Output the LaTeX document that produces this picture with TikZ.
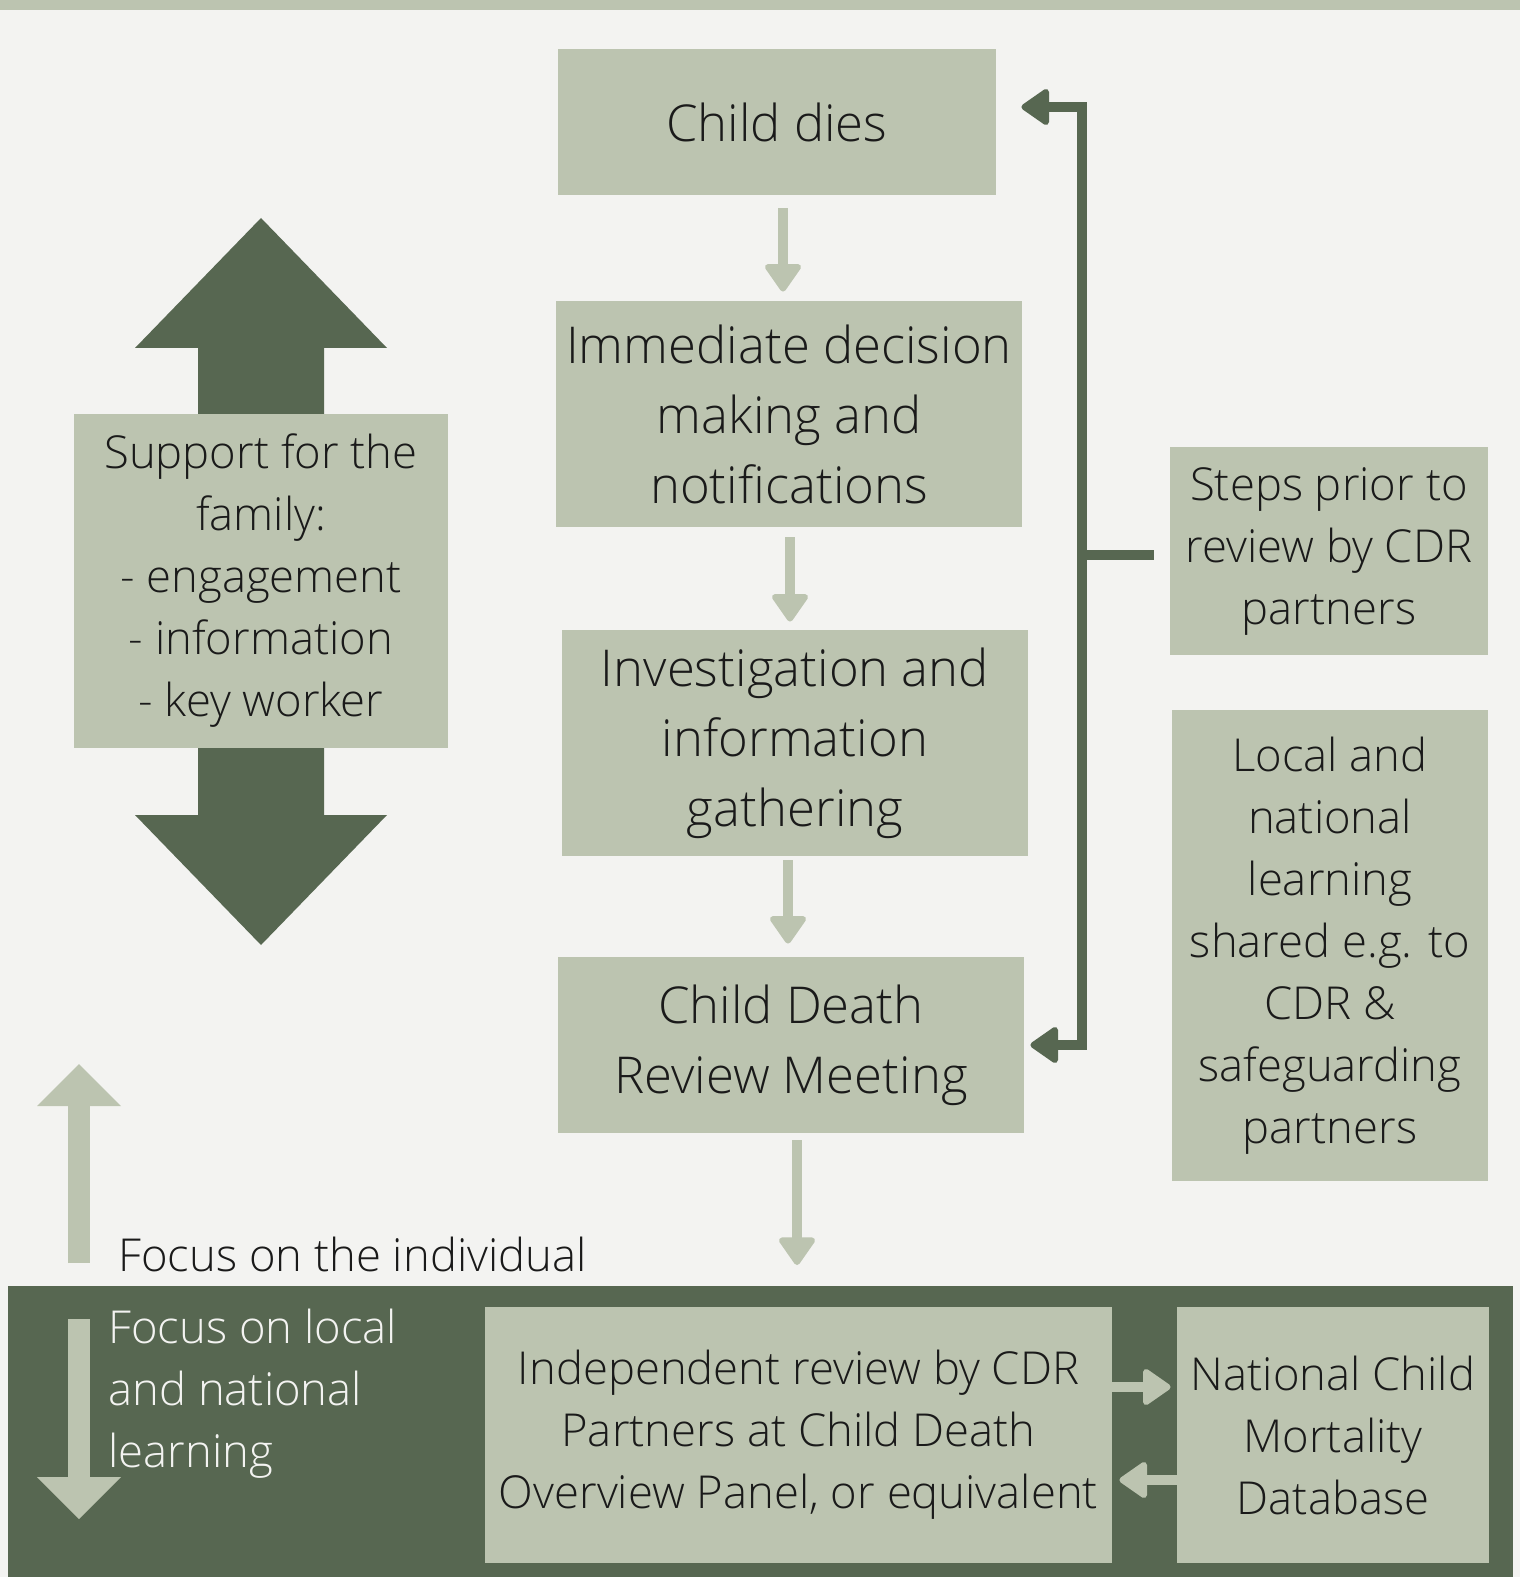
\documentclass[tikz,border=0pt]{standalone}
\usepackage{fontspec}
\setmainfont{Open Sans Light}
\usetikzlibrary{arrows.meta,positioning}
\definecolor{sage}{HTML}{BCC4B0}
\definecolor{moss}{HTML}{576751}
\definecolor{paper}{HTML}{F3F3F1}
\definecolor{ink}{HTML}{1A1A1A}
\tikzset{
  box/.style={fill=sage, text=ink, align=center, inner sep=0pt, font=\fontsize{25.4}{35}\selectfont},
  sidebox/.style={box, font=\fontsize{22.7}{31}\selectfont},
  flow/.style={draw=sage, line width=5pt, -{Triangle[round, width=20pt, length=15pt, line width=3pt]}},
  back/.style={draw=moss, line width=5pt},
  backarrow/.style={back, -{Triangle[round, width=20pt, length=15pt, line width=3pt]}},
  focus/.style={draw=sage, line width=11pt, -{Triangle[width=42pt, length=21pt, line width=0pt]}}
}

\begin{document}
\begin{tikzpicture}[x=0.5pt, y=-0.5pt]
  \useasboundingbox (0,0) rectangle (1520,1577);
  % page, top strip and the dark band
  \fill[paper] (0,0) rectangle (1520,1577);
  \fill[sage] (0,0) rectangle (1520,10);
  \fill[moss] (8,1286) rectangle (1513,1577);

  % family support double arrow
  \fill[moss] (261,218) -- (387,348) -- (324,348) -- (324,815) -- (387,815) -- (261,945)
    -- (135,815) -- (198,815) -- (198,348) -- (135,348) -- cycle;

  \node (dies) [box, minimum width=219pt, minimum height=73pt] at (777,122) {Child dies};
  \node (decide) [box, minimum width=233pt, minimum height=113pt] at (789,414) {Immediate decision\\making and\\notifications};
  \node (invest) [box, minimum width=233pt, minimum height=113pt] at (795,743) {Investigation and\\information\\gathering};
  \node (meet) [box, minimum width=233pt, minimum height=88pt] at (791,1045) {Child Death\\Review Meeting};
  \node (support) [sidebox, minimum width=187pt, minimum height=167pt] at (261,581) {Support for the\\family:\\- engagement\\- information\\- key worker};
  \node (steps) [sidebox, minimum width=159pt, minimum height=104pt] at (1329,551) {Steps prior to\\review by CDR\\partners};
  \node (learn) [sidebox, minimum width=158pt, minimum height=235.5pt] at (1330,945.5) {Local and\\national\\learning\\shared e.g. to\\CDR \&\\safeguarding\\partners};
  \node (indep) [sidebox, minimum width=313.5pt, minimum height=128pt] at (798.5,1435) {Independent review by CDR\\Partners at Child Death\\Overview Panel, or equivalent};
  \node (ncmd) [sidebox, minimum width=156pt, minimum height=128pt] at (1333,1435) {National Child\\Mortality\\Database};

  \node (indiv) [sidebox, fill=none, anchor=base west] at (118,1271) {Focus on the individual};
  \node (wider) [sidebox, fill=none, text=paper, align=left, anchor=base west] at (108,1467) {Focus on local\\and national\\learning};

  \coordinate (gate) at (797,1265);
  \coordinate (fork) at (1082,555);

  % main flow
  \draw[flow] ([xshift=3pt, yshift=-6.5pt]dies.south) -- ([xshift=3pt, yshift=4.5pt]dies.south |- decide.north);
  \draw[flow] ([xshift=0.5pt, yshift=-5pt]decide.south) -- ([xshift=0.5pt, yshift=4pt]decide.south |- invest.north);
  \draw[flow] ([xshift=-3.5pt, yshift=-2pt]invest.south) -- ([xshift=-3.5pt, yshift=6.5pt]invest.south |- meet.north);
  \draw[flow] ([xshift=3pt, yshift=-3.5pt]meet.south) -- (gate);

  % feedback bracket
  \draw[back] ([xshift=-8pt, yshift=-2pt]steps.west) -- (fork);
  \draw[backarrow] (fork) |- ([xshift=12.5pt, yshift=7.5pt]dies.east);
  \draw[backarrow] (fork) |- ([xshift=3pt]meet.east);

  % national database exchange
  \draw[flow] ([yshift=24pt]indep.east) -- ([xshift=-3pt, yshift=24pt]ncmd.west);
  \draw[flow] ([yshift=-22.5pt]ncmd.west) -- ([xshift=3.5pt, yshift=-22.5pt]indep.east);

  % focus arrows
  \draw[focus] (79,1263) -- (79,1064);
  \draw[focus] (79,1319) -- (79,1519);
\end{tikzpicture}
\end{document}
